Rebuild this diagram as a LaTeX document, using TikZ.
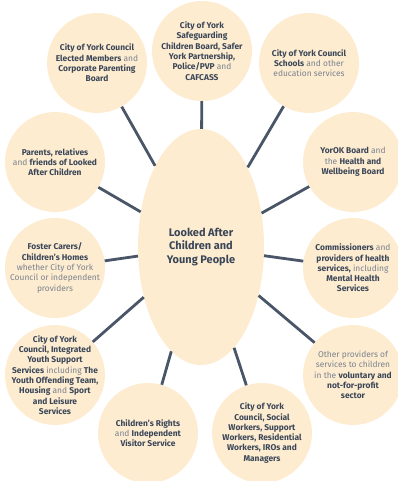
\documentclass[tikz,border=0pt]{standalone}
\usepackage{fontspec}
\setmainfont{Fira Sans}
\definecolor{cypeach}{RGB}{253,236,208}
\definecolor{cyink}{RGB}{58,70,88}
\definecolor{cygray}{RGB}{122,130,142}
\definecolor{cyline}{RGB}{74,86,104}
\usetikzlibrary{shapes.geometric}
\newcommand{\bd}[1]{\textcolor{cyink}{\textbf{#1}}}

\begin{document}
\begin{tikzpicture}[x=1pt, y=-1pt,
  disc/.style={circle, fill=cypeach, minimum size=100pt, inner sep=0pt},
  blurb/.style={align=center, text=cygray, inner sep=0pt, font=\fontsize{8.4}{10.3}\selectfont},
  link/.style={cyline, line width=2.8pt}]
  \useasboundingbox (0,0) rectangle (398,481);
  % hub
  \node[ellipse, fill=cypeach, minimum width=126pt, minimum height=236pt, inner sep=0pt,
        align=center, text=cyink, font=\fontsize{11}{13.3}\selectfont\bfseries] (hub) at (201,247)
        {Looked After\\Children and\\Young People};
  % satellites
  \node[disc] (elected)  at (97,63)   {};
  \node[disc] (safe)     at (202,51)  {};
  \node[disc] (schools)  at (309,63)  {};
  \node[disc] (yorok)    at (353,162) {};
  \node[disc] (health)   at (353,268) {};
  \node[disc] (vol)      at (353,375) {};
  \node[disc] (social)   at (262,433) {};
  \node[disc] (rights)   at (148,433) {};
  \node[disc] (youth)    at (55,375)  {};
  \node[disc] (foster)   at (55,268)  {};
  \node[disc] (parents)  at (55,162)  {};
  % connectors
  \foreach \s in {elected,safe,schools,yorok,health,vol,social,rights,youth,foster,parents}
    \draw[link] (hub) -- (\s);
  % texts
  \node[blurb] (electedtxt) at (elected) {\bd{City of York Council}\\\bd{Elected Members} and\\\bd{Corporate Parenting}\\\bd{Board}};
  \node[blurb] (safetxt) at (safe) {\bd{City of York}\\\bd{Safeguarding}\\\bd{Children Board, Safer}\\\bd{York Partnership,}\\\bd{Police/PVP} and\\\bd{CAFCASS}};
  \node[blurb] (schoolstxt) at (schools) {\bd{City of York Council}\\\bd{Schools} and other\\education services};
  \node[blurb] (yoroktxt) at (yorok) {\bd{YorOK Board} and\\the \bd{Health and}\\\bd{Wellbeing Board}};
  \node[blurb] (healthtxt) at (health) {\bd{Commissioners} and\\\bd{providers of health}\\\bd{services,} including\\\bd{Mental Health}\\\bd{Services}};
  \node[blurb] (voltxt) at (vol) {Other providers of\\services to children\\in the \bd{voluntary and}\\\bd{not-for-profit}\\\bd{sector}};
  \node[blurb] (socialtxt) at (social) {\bd{City of York}\\\bd{Council, Social}\\\bd{Workers, Support}\\\bd{Workers, Residential}\\\bd{Workers, IROs and}\\\bd{Managers}};
  \node[blurb] (rightstxt) at (rights) {\bd{Children’s Rights}\\and \bd{Independent}\\\bd{Visitor Service}};
  \node[blurb] (youthtxt) at (youth) {\bd{City of York}\\\bd{Council, Integrated}\\\bd{Youth Support}\\\bd{Services} including \bd{The}\\\bd{Youth Offending Team,}\\\bd{Housing} and \bd{Sport}\\\bd{and Leisure}\\\bd{Services}};
  \node[blurb] (fostertxt) at (foster) {\bd{Foster Carers/}\\\bd{Children’s Homes}\\whether City of York\\Council or independent\\providers};
  \node[blurb] (parentstxt) at (parents) {\bd{Parents, relatives}\\and \bd{friends of Looked}\\\bd{After Children}};
\end{tikzpicture}
\end{document}
